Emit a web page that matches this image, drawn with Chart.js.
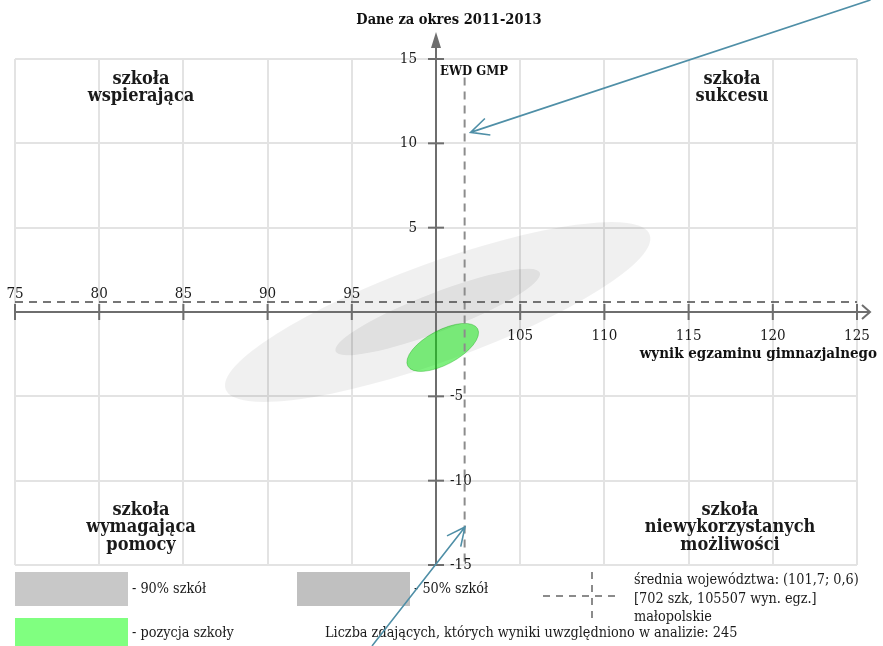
<!DOCTYPE html>
<html lang="pl">
<head>
<meta charset="utf-8">
<title>EWD GMP - Dane za okres 2011-2013</title>
<script src="https://cdn.jsdelivr.net/npm/chart.js@4.4.1/dist/chart.umd.min.js"></script>
<style>
  html, body { margin: 0; padding: 0; background: #fff; }
  #wrap { width: 883px; height: 646px; position: relative; }
</style>
</head>
<body>
<div id="wrap"><canvas id="chart"></canvas></div>
<script>
// values
const xTicks = [75, 80, 85, 90, 95, 100, 105, 110, 115, 120, 125];
const yTicks = [-15, -10, -5, 0, 5, 10, 15];
const meanX = [101.7]; // wynik egzaminu, średnia województwa
const meanY = [0.6];   // EWD, średnia województwa
const meanLineTop = [13.9];

// ellipses: 90% szkół, 50% szkół, pozycja szkoły
const areaNames = ["90% szkół", "50% szkół", "pozycja szkoły"];
const areaCenterX = [100.1, 100.1, 100.4];
const areaCenterY = [0.0, 0.0, -2.1];
const areaSemiMajor = [13.4, 6.5, 2.35];
const areaSemiMinor = [2.9, 1.15, 1.02];
const areaAngle = [20, 21, 28]; // degrees in data space

const quadrantNames = [
  ["szkoła", "wspierająca"],
  ["szkoła", "sukcesu"],
  ["szkoła", "wymagająca", "pomocy"],
  ["szkoła", "niewykorzystanych", "możliwości"]
];

// hand-drawn pointer arrows on the picture (start x, start y, end x, end y)
const arrowFromX = [125.8, 96.2];
const arrowFromY = [18.5, -19.8];
const arrowToX = [102.05, 101.72];
const arrowToY = [10.65, -12.75];

const SERIF = "'DejaVu Serif Condensed', 'DejaVu Serif', serif";
const AXIS_COLOR = "#6e6e6e";
const areaFill = ["rgba(0,0,0,0.06)", "rgba(0,0,0,0.065)", "rgba(0,225,0,0.5)"];
const legendFill = ["#c8c8c8", "#c0c0c0", "#80ff80"];

function text(ctx, s, x, y, font, align, color) {
  ctx.font = font;
  ctx.textAlign = align || "left";
  ctx.textBaseline = "middle";
  ctx.fillStyle = color || "#1a1a1a";
  ctx.fillText(s, x, y);
}

function drawArea(ctx, xs, ys, i) {
  const px = xs.getPixelForValue(areaCenterX[i]);
  const py = ys.getPixelForValue(areaCenterY[i]);
  const kx = xs.getPixelForValue(areaCenterX[i] + 1) - px;
  const ky = ys.getPixelForValue(areaCenterY[i] + 1) - py;
  ctx.save();
  ctx.beginPath();
  ctx.translate(px, py);
  ctx.scale(kx, ky);
  ctx.rotate(areaAngle[i] * Math.PI / 180);
  ctx.ellipse(0, 0, areaSemiMajor[i], areaSemiMinor[i], 0, 0, Math.PI * 2);
  ctx.restore();
  ctx.fillStyle = areaFill[i];
  ctx.fill();
  if (i === 2) {
    ctx.strokeStyle = "rgba(0,160,0,0.35)";
    ctx.lineWidth = 1;
    ctx.stroke();
  }
}

const quadrantPlugin = {
  id: "quadrant",
  beforeDatasetsDraw(chart) {
    const ctx = chart.ctx;
    const xs = chart.scales.x, ys = chart.scales.y;
    const x0 = xs.getPixelForValue(100), y0 = ys.getPixelForValue(0);

    drawArea(ctx, xs, ys, 0);
    drawArea(ctx, xs, ys, 1);

    ctx.save();
    ctx.strokeStyle = AXIS_COLOR;
    ctx.fillStyle = AXIS_COLOR;
    ctx.lineWidth = 2;
    // x axis
    ctx.beginPath();
    ctx.moveTo(chart.chartArea.left, y0);
    ctx.lineTo(870, y0);
    ctx.stroke();
    ctx.beginPath();
    ctx.moveTo(862, y0 - 7);
    ctx.lineTo(870, y0);
    ctx.lineTo(862, y0 + 7);
    ctx.stroke();
    // y axis
    ctx.beginPath();
    ctx.moveTo(x0, chart.chartArea.bottom);
    ctx.lineTo(x0, 44);
    ctx.stroke();
    ctx.beginPath();
    ctx.moveTo(x0, 32);
    ctx.lineTo(x0 - 5, 48);
    ctx.lineTo(x0 + 5, 48);
    ctx.closePath();
    ctx.fill();
    // tick crosses
    xTicks.forEach(v => {
      const p = xs.getPixelForValue(v);
      ctx.beginPath();
      ctx.moveTo(p, y0 - 8);
      ctx.lineTo(p, y0 + 8);
      ctx.stroke();
    });
    yTicks.forEach(v => {
      const p = ys.getPixelForValue(v);
      ctx.beginPath();
      ctx.moveTo(x0 - 8, p);
      ctx.lineTo(x0 + 8, p);
      ctx.stroke();
    });
    ctx.restore();

    drawArea(ctx, xs, ys, 2);
  },
  afterDraw(chart) {
    const ctx = chart.ctx;
    const xs = chart.scales.x, ys = chart.scales.y;
    const x0 = xs.getPixelForValue(100), y0 = ys.getPixelForValue(0);
    ctx.save();

    // tick labels
    const tickFont = "15px " + SERIF;
    xTicks.forEach(v => {
      if (v === 100) return;
      const p = xs.getPixelForValue(v);
      text(ctx, String(v), p, v < 100 ? y0 - 18 : y0 + 24, tickFont, "center");
    });
    yTicks.forEach(v => {
      if (v === 0) return;
      const p = ys.getPixelForValue(v);
      if (v > 0) text(ctx, String(v), x0 - 19, p, tickFont, "right");
      else text(ctx, String(v), x0 + 14, p, tickFont, "left");
    });

    // titles
    text(ctx, "Dane za okres 2011-2013", 449, 20, "bold 14.5px " + SERIF, "center", "#111");
    text(ctx, "EWD GMP", 440, 72, "bold 13px " + SERIF, "left", "#111");
    text(ctx, "wynik egzaminu gimnazjalnego", 877, 354, "bold 15px " + SERIF, "right", "#111");

    // quadrant names
    const qFont = "bold 18px " + SERIF;
    const qx = [141, 732, 141, 730];
    const qy = [79, 79, 510, 510];
    quadrantNames.forEach((lines, i) => {
      lines.forEach((s, k) => text(ctx, s, qx[i], qy[i] + k * 17.5, qFont, "center", "#1a1a1a"));
    });

    // legend
    const lFont = "14.3px " + SERIF;
    ctx.fillStyle = legendFill[0];
    ctx.fillRect(15, 572, 113, 34);
    text(ctx, "- " + areaNames[0], 132, 589, lFont);
    ctx.fillStyle = legendFill[1];
    ctx.fillRect(297, 572, 113, 34);
    text(ctx, "- " + areaNames[1], 414, 589, lFont);
    ctx.fillStyle = legendFill[2];
    ctx.fillRect(15, 618, 113, 30);
    text(ctx, "- " + areaNames[2], 132, 633, lFont);

    ctx.strokeStyle = "#666";
    ctx.lineWidth = 1.5;
    ctx.setLineDash([7, 6]);
    ctx.beginPath();
    ctx.moveTo(543, 596);
    ctx.lineTo(620, 596);
    ctx.moveTo(592, 572);
    ctx.lineTo(592, 620);
    ctx.stroke();
    ctx.setLineDash([]);
    const meanLabel = "średnia województwa: (" + String(meanX[0]).replace(".", ",") + "; " + String(meanY[0]).replace(".", ",") + ")";
    text(ctx, meanLabel, 634, 580, lFont);
    text(ctx, "[702 szk, 105507 wyn. egz.]", 634, 599, lFont);
    text(ctx, "małopolskie", 634, 617, lFont);
    text(ctx, "Liczba zdających, których wyniki uwzględniono w analizie: 245", 325, 633, lFont);

    // pointer arrows
    ctx.strokeStyle = "#4f8fa7";
    ctx.lineWidth = 1.6;
    arrowFromX.forEach((fx, i) => {
      const ax = xs.getPixelForValue(fx), ay = ys.getPixelForValue(arrowFromY[i]);
      const bx = xs.getPixelForValue(arrowToX[i]), by = ys.getPixelForValue(arrowToY[i]);
      const ang = Math.atan2(by - ay, bx - ax);
      ctx.beginPath();
      ctx.moveTo(ax, ay);
      ctx.lineTo(bx, by);
      ctx.moveTo(bx - 20 * Math.cos(ang - 0.45), by - 20 * Math.sin(ang - 0.45));
      ctx.lineTo(bx, by);
      ctx.lineTo(bx - 20 * Math.cos(ang + 0.45), by - 20 * Math.sin(ang + 0.45));
      ctx.stroke();
    });
    ctx.restore();
  }
};

new Chart(document.getElementById("chart"), {
  type: "scatter",
  data: {
    datasets: [
      {
        label: "średnia województwa (EWD)",
        data: [{ x: xTicks[0], y: meanY[0] }, { x: xTicks[xTicks.length - 1], y: meanY[0] }],
        showLine: true,
        borderColor: "#4a4a4a",
        borderWidth: 1.5,
        borderDash: [8, 6],
        pointRadius: 0
      },
      {
        label: "średnia województwa (egzamin)",
        data: [{ x: meanX[0], y: meanLineTop[0] }, { x: meanX[0], y: yTicks[0] }],
        showLine: true,
        borderColor: "#8c8c8c",
        borderWidth: 2,
        borderDash: [8, 6],
        pointRadius: 0
      }
    ]
  },
  options: {
    responsive: true,
    maintainAspectRatio: false,
    animation: false,
    events: [],
    layout: { padding: { left: 15, right: 26, top: 59, bottom: 81 } },
    plugins: {
      legend: { display: false },
      tooltip: { enabled: false }
    },
    scales: {
      x: {
        type: "linear",
        min: xTicks[0],
        max: xTicks[xTicks.length - 1],
        ticks: { stepSize: 5, display: false },
        grid: { color: "#e3e3e3", lineWidth: 2, drawTicks: false },
        border: { display: false }
      },
      y: {
        type: "linear",
        min: yTicks[0],
        max: yTicks[yTicks.length - 1],
        ticks: { stepSize: 5, display: false },
        grid: { color: "#e3e3e3", lineWidth: 2, drawTicks: false },
        border: { display: false }
      }
    }
  },
  plugins: [quadrantPlugin]
});
</script>
</body>
</html>
